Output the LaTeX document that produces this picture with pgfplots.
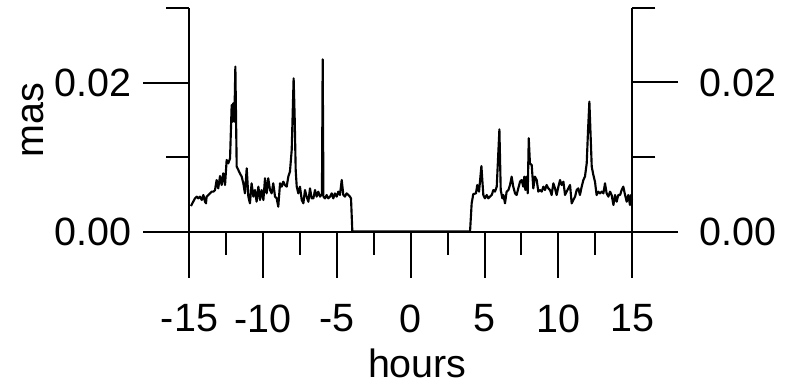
\documentclass[border=0pt]{standalone}
\usepackage{pgfplots}
\pgfplotsset{compat=1.18}
\usepackage{fontspec}
\setmainfont{Liberation Sans}
\begin{document}
\begin{tikzpicture}
\pgfplotsset{
  common/.style={
    width=331.875pt, height=167.625pt, scale only axis,
    xmin=-15, xmax=15, ymin=0, ymax=0.03,
    scaled y ticks=false, scaled x ticks=false,
    tick align=outside,
    major tick length=34.5pt, minor tick length=17.5pt,
    tick style={line width=1.5pt, black},
    axis line style={line width=1.5pt, black},
    tick label style={font=\fontsize{29.6}{34}\selectfont, inner sep=0pt},
    label style={font=\fontsize{29.6}{34}\selectfont, inner sep=0pt},
    ytick={0,0.02}, yticklabels={0.00,0.02}, minor ytick={0.01,0.03},
    clip=false,
  }
}
\begin{axis}[common,
  axis x line*=bottom, axis y line*=left,
  xtick={-15,-10,-5,0,5,10,15},
  xticklabels={-15,-10,-5,0,5,10,15},
  minor xtick={-12.5,-7.5,-2.5,2.5,7.5,12.5},
  xticklabel style={anchor=north, yshift=-20pt},
  yticklabel style={anchor=east, xshift=-9pt},
  xlabel={hours}, ylabel={mas},
  xlabel style={at={(axis description cs:0.515,-0.591)}, anchor=center},
  ylabel style={at={(axis description cs:-0.354,0.5)}, anchor=center},
]
\addplot[black, line width=1.6pt, line join=round] coordinates {
(-14.90,0.00342) (-14.63,0.00445) (-14.51,0.00468) (-14.40,0.00445) (-14.29,0.00468) (-14.17,0.00423) (-14.06,0.00490) (-13.95,0.00400) (-13.88,0.00378) (-13.84,0.00468) (-13.72,0.00490) (-13.61,0.00512) (-13.50,0.00535) (-13.38,0.00535) (-13.27,0.00557) (-13.16,0.00691) (-13.05,0.00579) (-12.93,0.00745) (-12.82,0.00624) (-12.71,0.00781) (-12.59,0.00624) (-12.48,0.00960) (-12.37,0.00915) (-12.25,0.00982) (-12.14,0.01698) (-12.07,0.01474) (-12.03,0.01721) (-11.96,0.01474) (-11.89,0.02213) (-11.80,0.00870) (-11.69,0.00826) (-11.58,0.00780) (-11.46,0.00736) (-11.35,0.00647) (-11.24,0.00512) (-11.12,0.00848) (-11.01,0.00468) (-10.90,0.00378) (-10.79,0.00647) (-10.67,0.00468) (-10.56,0.00557) (-10.45,0.00400) (-10.33,0.00602) (-10.22,0.00423) (-10.11,0.00557) (-9.99,0.00423) (-9.88,0.00714) (-9.77,0.00512) (-9.66,0.00714) (-9.54,0.00557) (-9.43,0.00512) (-9.32,0.00647) (-9.20,0.00468) (-9.09,0.00445) (-8.98,0.00333) (-8.86,0.00647) (-8.75,0.00602) (-8.64,0.00669) (-8.53,0.00624) (-8.41,0.00602) (-8.30,0.00736) (-8.19,0.00803) (-8.07,0.01094) (-8.01,0.01541) (-7.94,0.02056) (-7.87,0.01541) (-7.80,0.00826) (-7.73,0.00602) (-7.62,0.00512) (-7.51,0.00602) (-7.39,0.00423) (-7.28,0.00378) (-7.17,0.00557) (-7.06,0.00468) (-6.94,0.00400) (-6.83,0.00579) (-6.72,0.00445) (-6.60,0.00445) (-6.49,0.00557) (-6.38,0.00468) (-6.27,0.00535) (-6.15,0.00468) (-6.02,0.00503) (-5.97,0.02311) (-5.92,0.00468) (-5.81,0.00445) (-5.70,0.00490) (-5.59,0.00445) (-5.47,0.00468) (-5.36,0.00512) (-5.25,0.00445) (-5.14,0.00512) (-5.02,0.00468) (-4.91,0.00535) (-4.80,0.00490) (-4.68,0.00691) (-4.57,0.00490) (-4.46,0.00468) (-4.35,0.00512) (-4.23,0.00490) (-4.12,0.00468) (-4.05,0.00445) (-3.96,0)
(4.02,0) (4.13,0.00378) (4.24,0.00503) (4.42,0.00512) (4.51,0.00624) (4.63,0.00535) (4.79,0.00879) (4.92,0.00490) (5.03,0.00445) (5.15,0.00490) (5.26,0.00445) (5.37,0.00468) (5.49,0.00490) (5.60,0.00557) (5.71,0.00535) (5.83,0.00602) (5.94,0.01072) (6.01,0.01371) (6.10,0.00557) (6.21,0.00445) (6.28,0.00490) (6.39,0.00378) (6.50,0.00535) (6.62,0.00557) (6.73,0.00624) (6.84,0.00736) (6.95,0.00602) (7.07,0.00512) (7.18,0.00490) (7.29,0.00579) (7.41,0.00669) (7.52,0.00691) (7.63,0.00602) (7.70,0.00736) (7.77,0.00557) (7.86,0.00736) (7.93,0.00512) (8.00,0.01251) (8.08,0.00915) (8.20,0.00893) (8.31,0.00579) (8.42,0.00736) (8.54,0.00691) (8.65,0.00535) (8.76,0.00557) (8.88,0.00535) (8.99,0.00602) (9.10,0.00557) (9.21,0.00624) (9.33,0.00579) (9.44,0.00557) (9.55,0.00490) (9.67,0.00647) (9.78,0.00579) (9.89,0.00490) (10.01,0.00602) (10.12,0.00691) (10.23,0.00624) (10.35,0.00669) (10.46,0.00490) (10.57,0.00535) (10.68,0.00579) (10.80,0.00624) (10.91,0.00378) (11.02,0.00423) (11.14,0.00468) (11.25,0.00557) (11.36,0.00579) (11.47,0.00490) (11.59,0.00602) (11.70,0.00691) (11.81,0.00736) (11.93,0.00915) (12.02,0.01362) (12.11,0.01743) (12.18,0.01362) (12.27,0.00870) (12.38,0.00758) (12.49,0.00669) (12.60,0.00490) (12.72,0.00535) (12.83,0.00512) (12.94,0.00535) (13.06,0.00512) (13.17,0.00647) (13.28,0.00512) (13.40,0.00468) (13.51,0.00535) (13.62,0.00490) (13.74,0.00356) (13.85,0.00490) (13.96,0.00400) (14.07,0.00490) (14.19,0.00490) (14.30,0.00557) (14.41,0.00602) (14.53,0.00490) (14.64,0.00400) (14.75,0.00490) (14.86,0.00356) (14.93,0.00490) (15.00,0.00423)
};
\coordinate (bbl) at (rel axis cs:-0.4282,-0.6734);
\coordinate (btr) at (rel axis cs:1.3593,1.0358);
\end{axis}
\begin{axis}[common,
  axis x line=none, axis y line*=right,
  yticklabel pos=right,
  yticklabel style={anchor=west, xshift=15.75pt},
]
\addplot[draw=none] coordinates {(0,0)};
\end{axis}
\pgfresetboundingbox
\path (bbl) rectangle (btr);
\end{tikzpicture}
\end{document}
